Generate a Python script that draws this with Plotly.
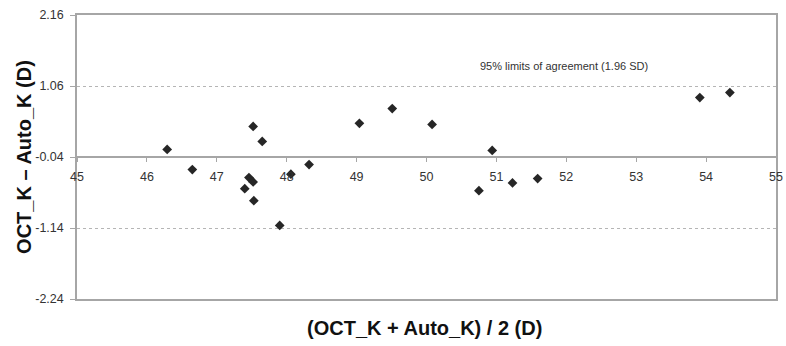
import plotly.graph_objects as go

# Mean of the two measurements (x) and difference (y)
mean_k = [46.29, 46.65, 47.52, 47.65, 47.46, 47.52, 47.40, 47.53, 47.90, 48.06,
          48.32, 49.04, 49.51, 50.08, 50.94, 50.75, 51.23, 51.59, 53.91, 54.34]
diff_k = [0.077, -0.234, 0.434, 0.201, -0.359, -0.426, -0.53, -0.716, -1.10, -0.307,
          -0.157, 0.481, 0.71, 0.465, 0.061, -0.561, -0.441, -0.374, 0.88, 0.958]

y_ticks = [-2.24, -1.14, -0.04, 1.06, 2.16]
x_ticks = list(range(45, 56))
annotation_text = "95% limits of agreement (1.96 SD)"
x_title = "(OCT_K + Auto_K) / 2 (D)"
y_title = "OCT_K \u2013 Auto_K (D)"

line_col = "#a6a6a6"
text_col = "#333333"
font_family = "Liberation Sans, Arial, sans-serif"

fig = go.Figure()
fig.add_trace(go.Scatter(
    x=mean_k, y=diff_k, mode="markers",
    marker=dict(symbol="diamond", size=7.5, color="#262626"),
    showlegend=False, hoverinfo="x+y",
))
# invisible trace for the frame axis
fig.add_trace(go.Scatter(x=[45, 55], y=[-2.24, -2.24], xaxis="x2", mode="markers",
                         marker=dict(opacity=0), showlegend=False, hoverinfo="skip"))

fig.update_layout(
    width=786, height=346,
    margin=dict(l=77, r=10, t=15, b=47),
    paper_bgcolor="white", plot_bgcolor="white",
    font=dict(family=font_family, size=12, color=text_col),
    xaxis=dict(
        range=[45, 55], tickvals=x_ticks, ticktext=[str(v) for v in x_ticks],
        anchor="free", position=0.5, automargin=False,
        showline=True, linecolor=line_col, linewidth=1.5,
        ticks="outside", ticklen=4, tickcolor=line_col, ticklabelstandoff=4,
        showgrid=False, zeroline=False, ticklabeloverflow="allow",
        tickfont=dict(size=12.5, color=text_col),
    ),
    xaxis2=dict(
        range=[45, 55], overlaying="x", anchor="y", side="bottom", automargin=False,
        showline=True, mirror=True, linecolor=line_col, linewidth=1.5,
        showticklabels=False, ticks="", showgrid=False, zeroline=False,
    ),
    yaxis=dict(
        range=[-2.24, 2.16], tickvals=y_ticks, ticktext=[f"{v:.2f}" for v in y_ticks],
        automargin=False,
        showline=True, mirror=True, linecolor=line_col, linewidth=1.5,
        ticks="outside", ticklen=5, tickcolor=line_col, ticklabelstandoff=4,
        showgrid=True, gridcolor="#b5b5b5", griddash="dot", gridwidth=1,
        zeroline=False,
        tickfont=dict(size=12.5, color=text_col),
    ),
    annotations=[
        dict(text=annotation_text, x=0.573, xref="paper", y=0.82, yref="paper",
             yanchor="middle", xanchor="left", showarrow=False,
             font=dict(size=11, color=text_col)),
        dict(text="<b>" + x_title + "</b>", x=0.4965, xref="paper",
             y=-0.101, yref="paper", yanchor="middle", xanchor="center", showarrow=False,
             font=dict(size=20, color="#111111")),
        dict(text="<b>" + y_title + "</b>", x=-0.076, xref="paper",
             y=0.5, yref="paper", yanchor="middle", xanchor="center", showarrow=False,
             textangle=-90, font=dict(size=20, color="#111111")),
    ],
)

fig.write_html("out.html", config={"displayModeBar": False},
               post_script="document.body.style.margin='0';document.body.style.overflow='hidden';")
